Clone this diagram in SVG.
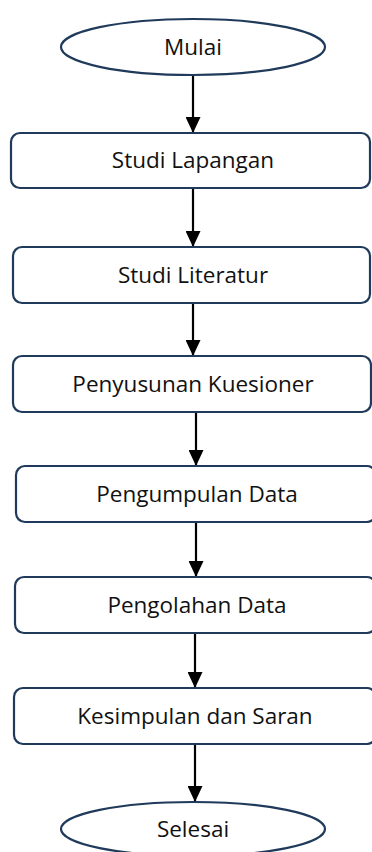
<svg xmlns="http://www.w3.org/2000/svg" width="372" height="852" viewBox="0 0 372 852">
<defs>
<style>
.n{fill:#fff;stroke:#1f3a5a;stroke-width:2.2}
.t{font-family:"Open Sans","Liberation Sans",sans-serif;font-size:22.5px;fill:#111;text-anchor:middle;dominant-baseline:central}
.c{stroke:#000;stroke-width:2.2;fill:none}
</style>
<marker id="ah" viewBox="0 0 16 15" refX="16" refY="7.5" markerWidth="16" markerHeight="15" markerUnits="userSpaceOnUse" orient="auto">
<path d="M0,0 L16,7.5 L0,15 Z" fill="#000"/>
</marker>
</defs>
<rect width="372" height="852" fill="#fff"/>
<g id="connectors">
<line class="c" x1="193" y1="76" x2="193" y2="133" marker-end="url(#ah)"/>
<line class="c" x1="193" y1="189" x2="193" y2="247" marker-end="url(#ah)"/>
<line class="c" x1="193" y1="304" x2="193" y2="356" marker-end="url(#ah)"/>
<line class="c" x1="196" y1="413" x2="196" y2="466" marker-end="url(#ah)"/>
<line class="c" x1="196" y1="523" x2="196" y2="577" marker-end="url(#ah)"/>
<line class="c" x1="195" y1="634" x2="195" y2="688" marker-end="url(#ah)"/>
<line class="c" x1="195" y1="745" x2="195" y2="802" marker-end="url(#ah)"/>
</g>
<g id="mulai"><ellipse class="n" cx="193" cy="47" rx="132" ry="28"/><text class="t" x="193" y="46">Mulai</text></g>
<g id="studi-lapangan"><rect class="n" x="11" y="133" width="359" height="55" rx="9"/><text class="t" x="193" y="159">Studi Lapangan</text></g>
<g id="studi-literatur"><rect class="n" x="13" y="247" width="357" height="56" rx="9"/><text class="t" x="193" y="274">Studi Literatur</text></g>
<g id="penyusunan"><rect class="n" x="13" y="356" width="358" height="56" rx="9"/><text class="t" x="193" y="383">Penyusunan Kuesioner</text></g>
<g id="pengumpulan"><rect class="n" x="16" y="466" width="360" height="56" rx="9"/><text class="t" x="197" y="493">Pengumpulan Data</text></g>
<g id="pengolahan"><rect class="n" x="15" y="577" width="361" height="56" rx="9"/><text class="t" x="197" y="604">Pengolahan Data</text></g>
<g id="kesimpulan"><rect class="n" x="14" y="688" width="362" height="56" rx="9"/><text class="t" x="195" y="715">Kesimpulan dan Saran</text></g>
<g id="selesai"><ellipse class="n" cx="193" cy="829" rx="132" ry="27"/><text class="t" x="193" y="828">Selesai</text></g>
</svg>
